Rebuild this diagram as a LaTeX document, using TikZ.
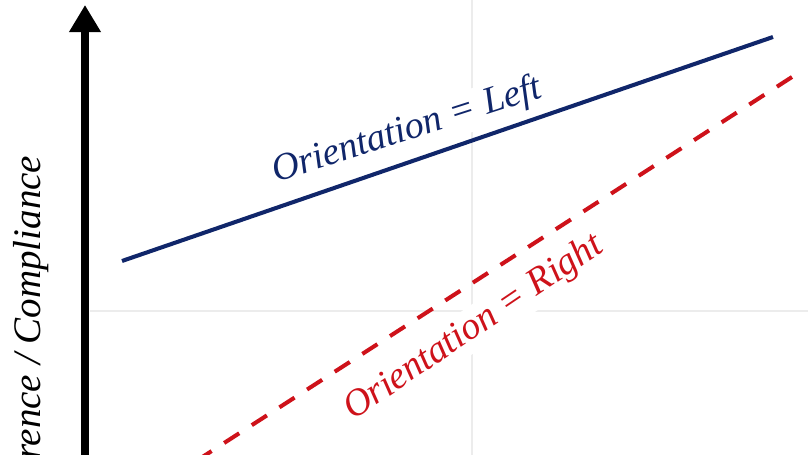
\documentclass[tikz,border=0pt]{standalone}
\usepackage{fontspec}
\setmainfont{Liberation Serif}
\usetikzlibrary{arrows.meta}
\definecolor{leftblue}{RGB}{16,38,106}
\definecolor{rightred}{RGB}{206,18,26}
\begin{document}
\begin{tikzpicture}[x=0.01cm,y=-0.01cm,
		lbl/.style={font=\fontsize{10.8}{12}\selectfont\itshape, fill=white, inner sep=1pt}]
	\useasboundingbox (0,0) rectangle (808,455);
	\clip (0,0) rectangle (808,455);
	% faint grid behind everything
	\draw[gray!15, line width=0.3pt] (472,0) -- (472,455);
	\draw[gray!15, line width=0.3pt] (90,311) -- (808,311);

	% labels of the two lines
	\node[lbl, text=leftblue, rotate=17.8] (leftlbl) at (407,131) {Orientation = Left};
	\node[lbl, text=rightred, rotate=34] (rightlbl) at (474,328) {Orientation = Right};

	% vertical axis
	\coordinate (ybot) at (85,470);
	\coordinate (ytop) at (85,5);
	\draw[line width=2.5pt, -{Triangle[length=0.27cm,width=0.30cm]}] (ybot) -- (ytop);
	\node[lbl, font=\fontsize{11.1}{13}\selectfont\itshape, fill=none, inner sep=0pt, rotate=90, anchor=base east] (ylabel) at (41,155) {rence / Compliance};

	% the two lines
	\coordinate (l0) at (122,261);
	\coordinate (l1) at (773,37);
	\draw[leftblue, line width=1.15pt] (l0) -- (l1);
	\coordinate (r0) at (190,465);
	\coordinate (r1) at (792,77);
	\draw[rightred, line width=1.15pt, dash pattern=on 5.1pt off 4.25pt] (r1) -- (r0);
\end{tikzpicture}
\end{document}
